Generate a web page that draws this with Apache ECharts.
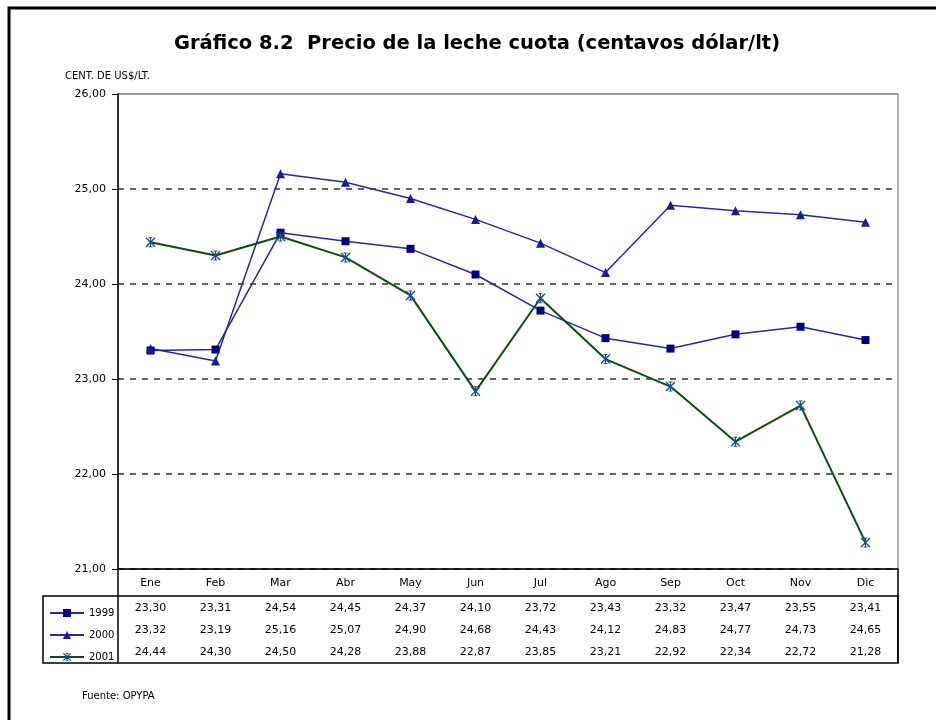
<!DOCTYPE html>
<html>
<head>
<meta charset="utf-8">
<script src="https://cdn.jsdelivr.net/npm/echarts@6/dist/echarts.min.js"></script>
<style>
  html, body { margin: 0; padding: 0; background: #fff; }
  #chart { width: 936px; height: 720px; }
</style>
</head>
<body>
<div id="chart"></div>
<script>
// datos del gráfico
const meses = ['Ene', 'Feb', 'Mar', 'Abr', 'May', 'Jun', 'Jul', 'Ago', 'Sep', 'Oct', 'Nov', 'Dic'];
const anios = ['1999', '2000', '2001'];
const precio1999 = [23.30, 23.31, 24.54, 24.45, 24.37, 24.10, 23.72, 23.43, 23.32, 23.47, 23.55, 23.41];
const precio2000 = [23.32, 23.19, 25.16, 25.07, 24.90, 24.68, 24.43, 24.12, 24.83, 24.77, 24.73, 24.65];
const precio2001 = [24.44, 24.30, 24.50, 24.28, 23.88, 22.87, 23.85, 23.21, 22.92, 22.34, 22.72, 21.28];
const yTicks = [21, 22, 23, 24, 25, 26];

const coma = v => v.toFixed(2).replace('.', ',');

// asterisco tipo excel
const asterisco = 'path://M0,1 L1,0 L10,9 L9,10 Z M9,0 L10,1 L1,10 L0,9 Z M4.4,0 L5.6,0 L5.6,10 L4.4,10 Z M3,0 L7,0 L7,1 L3,1 Z M3,9 L7,9 L7,10 L3,10 Z';

const chart = echarts.init(document.getElementById('chart'));

const L = 118, T = 94, R = 898, B = 569;

const option = {
  animation: false,
  textStyle: { fontFamily: 'DejaVu Sans', color: '#000' },
  title: [
    {
      text: 'Gráfico 8.2  Precio de la leche cuota (centavos dólar/lt)',
      left: 472, top: 29, textAlign: 'center',
      textStyle: { fontSize: 19.5, fontWeight: 'bold', color: '#000', fontFamily: 'DejaVu Sans' }
    },
    {
      text: 'CENT. DE US$/LT.',
      left: 60, top: 66,
      textStyle: { fontSize: 10, fontWeight: 'normal', color: '#000' }
    },
    {
      text: 'Fuente: OPYPA',
      left: 77, top: 686,
      textStyle: { fontSize: 10, fontWeight: 'normal', color: '#000' }
    }
  ],
  grid: {
    left: L, top: T, width: R - L, height: B - T,
    show: true, borderColor: '#999', borderWidth: 1.5
  },
  legend: {
    orient: 'vertical',
    left: 44, top: 603,
    itemWidth: 34, itemHeight: 10, itemGap: 12,
    data: anios,
    textStyle: { fontSize: 10, color: '#000' }
  },
  xAxis: {
    type: 'category',
    data: meses,
    boundaryGap: true,
    axisLine: { lineStyle: { color: '#000', width: 1.5 } },
    axisTick: { show: false },
    axisLabel: {
      margin: 0,
      interval: 0,
      formatter: (m, i) => [
        '{m|' + m + '}',
        '{v|' + coma(precio1999[i]) + '}',
        '{v|' + coma(precio2000[i]) + '}',
        '{v|' + coma(precio2001[i]) + '}'
      ].join('\n'),
      rich: {
        m: { fontSize: 11, lineHeight: 28, color: '#000' },
        v: { fontSize: 11, lineHeight: 22, color: '#000' }
      }
    }
  },
  yAxis: {
    type: 'value',
    min: yTicks[0], max: yTicks[yTicks.length - 1], interval: 1,
    axisLine: { show: true, lineStyle: { color: '#000', width: 1.5 } },
    axisTick: { show: true, inside: false, length: 6, lineStyle: { color: '#000' } },
    axisLabel: { formatter: v => coma(v), fontSize: 11, color: '#000', margin: 12 },
    splitLine: { lineStyle: { color: '#333', type: [6, 6], width: 1.5 } }
  },
  series: [
    {
      name: anios[0], type: 'line', data: precio1999,
      symbol: 'rect', symbolSize: 8,
      lineStyle: { color: '#2626a6', width: 1.5 },
      itemStyle: { color: '#000080' }
    },
    {
      name: anios[1], type: 'line', data: precio2000,
      symbol: 'triangle', symbolSize: 9,
      lineStyle: { color: '#2626a6', width: 1.5 },
      itemStyle: { color: '#1a1a96' }
    },
    {
      name: anios[2], type: 'line', data: precio2001,
      symbol: asterisco, symbolSize: 10,
      lineStyle: { color: '#0d4d12', width: 2 },
      itemStyle: { color: '#1c4f8c' }
    }
  ],
  graphic: [
    // marco exterior
    { type: 'polyline', z: 100, shape: { points: [[9, 730], [9, 8], [940, 8]] }, style: { stroke: '#000', lineWidth: 3, fill: null } },
    // borde superior del área de trazado (sólido)
    { type: 'line', z: 100, shape: { x1: L + 1, y1: T, x2: R, y2: T }, style: { stroke: '#999', lineWidth: 2 } },
    // tabla de datos
    { type: 'line', z: 100, shape: { x1: L, y1: B, x2: L, y2: 663 }, style: { stroke: '#000', lineWidth: 1.5 } },
    { type: 'line', z: 100, shape: { x1: R, y1: B, x2: R, y2: 663 }, style: { stroke: '#000', lineWidth: 1.5 } },
    { type: 'rect', z: 100, shape: { x: 43, y: 596, width: R - 43, height: 67 }, style: { stroke: '#000', lineWidth: 1.5, fill: null } }
  ]
};

chart.setOption(option);
</script>
</body>
</html>
